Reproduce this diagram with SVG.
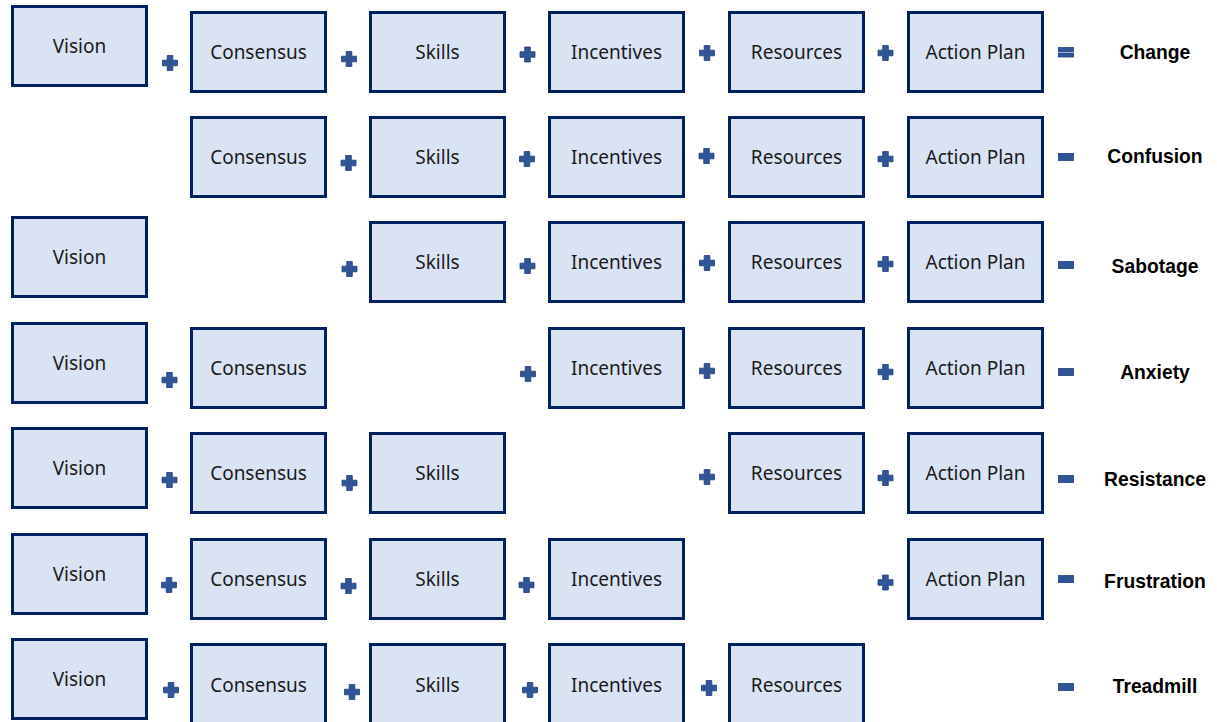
<svg xmlns="http://www.w3.org/2000/svg" xmlns:xlink="http://www.w3.org/1999/xlink" width="1217" height="722" viewBox="0 0 1217 722">
<style>
.box{fill:#dae3f3;stroke:#002060;stroke-width:3}
.t{font-family:"Noto Sans","Liberation Sans",sans-serif;font-size:19px;fill:#1a1a1a;text-anchor:middle}
.r{font-family:"Liberation Sans",Arial,sans-serif;font-size:19.3px;font-weight:bold;fill:#000;text-anchor:middle}
.op{fill:#2f5597;stroke:#203f7a;stroke-width:0.8}
</style>
<defs>
<path id="plus" d="M-2.8,-7.5h5.6v4.7h4.7v5.6h-4.7v4.7h-5.6v-4.7h-4.7v-5.6h4.7z"/>
<rect id="minus" x="-7.5" y="-3.5" width="15" height="7"/>
<g id="eq"><rect x="-7.5" y="-4.5" width="15" height="4"/><rect x="-7.5" y="1" width="15" height="4"/></g>
</defs>
<rect width="1217" height="722" fill="#fff"/>

<!-- Row 1 -->
<g id="r1-vision"><rect class="box" x="12.5" y="6.5" width="134" height="79"/><text class="t" x="79.5" y="53">Vision</text></g>
<g id="r1-consensus"><rect class="box" x="191.5" y="12.5" width="134" height="79"/><text class="t" x="258.5" y="59">Consensus</text></g>
<g id="r1-skills"><rect class="box" x="370.5" y="12.5" width="134" height="79"/><text class="t" x="437.5" y="59">Skills</text></g>
<g id="r1-incentives"><rect class="box" x="549.5" y="12.5" width="134" height="79"/><text class="t" x="616.5" y="59">Incentives</text></g>
<g id="r1-resources"><rect class="box" x="729.5" y="12.5" width="134" height="79"/><text class="t" x="796.5" y="59">Resources</text></g>
<g id="r1-action"><rect class="box" x="908.5" y="12.5" width="134" height="79"/><text class="t" x="975.5" y="59">Action Plan</text></g>
<g id="r1-result"><text class="r" x="1155" y="59">Change</text></g>

<!-- Row 2 -->
<g id="r2-consensus"><rect class="box" x="191.5" y="117.5" width="134" height="79"/><text class="t" x="258.5" y="164">Consensus</text></g>
<g id="r2-skills"><rect class="box" x="370.5" y="117.5" width="134" height="79"/><text class="t" x="437.5" y="164">Skills</text></g>
<g id="r2-incentives"><rect class="box" x="549.5" y="117.5" width="134" height="79"/><text class="t" x="616.5" y="164">Incentives</text></g>
<g id="r2-resources"><rect class="box" x="729.5" y="117.5" width="134" height="79"/><text class="t" x="796.5" y="164">Resources</text></g>
<g id="r2-action"><rect class="box" x="908.5" y="117.5" width="134" height="79"/><text class="t" x="975.5" y="164">Action Plan</text></g>
<g id="r2-result"><text class="r" x="1155" y="163">Confusion</text></g>

<!-- Row 3 -->
<g id="r3-vision"><rect class="box" x="12.5" y="217.5" width="134" height="79"/><text class="t" x="79.5" y="264">Vision</text></g>
<g id="r3-skills"><rect class="box" x="370.5" y="222.5" width="134" height="79"/><text class="t" x="437.5" y="269">Skills</text></g>
<g id="r3-incentives"><rect class="box" x="549.5" y="222.5" width="134" height="79"/><text class="t" x="616.5" y="269">Incentives</text></g>
<g id="r3-resources"><rect class="box" x="729.5" y="222.5" width="134" height="79"/><text class="t" x="796.5" y="269">Resources</text></g>
<g id="r3-action"><rect class="box" x="908.5" y="222.5" width="134" height="79"/><text class="t" x="975.5" y="269">Action Plan</text></g>
<g id="r3-result"><text class="r" x="1155" y="273">Sabotage</text></g>

<!-- Row 4 -->
<g id="r4-vision"><rect class="box" x="12.5" y="323.5" width="134" height="79"/><text class="t" x="79.5" y="370">Vision</text></g>
<g id="r4-consensus"><rect class="box" x="191.5" y="328.5" width="134" height="79"/><text class="t" x="258.5" y="375">Consensus</text></g>
<g id="r4-incentives"><rect class="box" x="549.5" y="328.5" width="134" height="79"/><text class="t" x="616.5" y="375">Incentives</text></g>
<g id="r4-resources"><rect class="box" x="729.5" y="328.5" width="134" height="79"/><text class="t" x="796.5" y="375">Resources</text></g>
<g id="r4-action"><rect class="box" x="908.5" y="328.5" width="134" height="79"/><text class="t" x="975.5" y="375">Action Plan</text></g>
<g id="r4-result"><text class="r" x="1155" y="379">Anxiety</text></g>

<!-- Row 5 -->
<g id="r5-vision"><rect class="box" x="12.5" y="428.5" width="134" height="79"/><text class="t" x="79.5" y="475">Vision</text></g>
<g id="r5-consensus"><rect class="box" x="191.5" y="433.5" width="134" height="79"/><text class="t" x="258.5" y="480">Consensus</text></g>
<g id="r5-skills"><rect class="box" x="370.5" y="433.5" width="134" height="79"/><text class="t" x="437.5" y="480">Skills</text></g>
<g id="r5-resources"><rect class="box" x="729.5" y="433.5" width="134" height="79"/><text class="t" x="796.5" y="480">Resources</text></g>
<g id="r5-action"><rect class="box" x="908.5" y="433.5" width="134" height="79"/><text class="t" x="975.5" y="480">Action Plan</text></g>
<g id="r5-result"><text class="r" x="1155" y="486">Resistance</text></g>

<!-- Row 6 -->
<g id="r6-vision"><rect class="box" x="12.5" y="534.5" width="134" height="79"/><text class="t" x="79.5" y="581">Vision</text></g>
<g id="r6-consensus"><rect class="box" x="191.5" y="539.5" width="134" height="79"/><text class="t" x="258.5" y="586">Consensus</text></g>
<g id="r6-skills"><rect class="box" x="370.5" y="539.5" width="134" height="79"/><text class="t" x="437.5" y="586">Skills</text></g>
<g id="r6-incentives"><rect class="box" x="549.5" y="539.5" width="134" height="79"/><text class="t" x="616.5" y="586">Incentives</text></g>
<g id="r6-action"><rect class="box" x="908.5" y="539.5" width="134" height="79"/><text class="t" x="975.5" y="586">Action Plan</text></g>
<g id="r6-result"><text class="r" x="1155" y="588">Frustration</text></g>

<!-- Row 7 -->
<g id="r7-vision"><rect class="box" x="12.5" y="639.5" width="134" height="79"/><text class="t" x="79.5" y="686">Vision</text></g>
<g id="r7-consensus"><rect class="box" x="191.5" y="644.5" width="134" height="79"/><text class="t" x="258.5" y="692">Consensus</text></g>
<g id="r7-skills"><rect class="box" x="370.5" y="644.5" width="134" height="79"/><text class="t" x="437.5" y="692">Skills</text></g>
<g id="r7-incentives"><rect class="box" x="549.5" y="644.5" width="134" height="79"/><text class="t" x="616.5" y="692">Incentives</text></g>
<g id="r7-resources"><rect class="box" x="729.5" y="644.5" width="134" height="79"/><text class="t" x="796.5" y="692">Resources</text></g>
<g id="r7-result"><text class="r" x="1155" y="693">Treadmill</text></g>

<!-- Operators -->
<g id="connectors" class="op">
<use xlink:href="#plus" x="170" y="63"/>
<use xlink:href="#plus" x="349" y="59"/>
<use xlink:href="#plus" x="527.5" y="54.5"/>
<use xlink:href="#plus" x="707" y="53"/>
<use xlink:href="#plus" x="885.5" y="53"/>
<use xlink:href="#eq" x="1066" y="52"/>

<use xlink:href="#plus" x="348.5" y="163"/>
<use xlink:href="#plus" x="527" y="159"/>
<use xlink:href="#plus" x="706.5" y="156"/>
<use xlink:href="#plus" x="885.5" y="159"/>
<use xlink:href="#minus" x="1066" y="157"/>

<use xlink:href="#plus" x="349.5" y="269"/>
<use xlink:href="#plus" x="527.5" y="266"/>
<use xlink:href="#plus" x="707" y="263"/>
<use xlink:href="#plus" x="885.5" y="264"/>
<use xlink:href="#minus" x="1066" y="265"/>

<use xlink:href="#plus" x="169.5" y="380"/>
<use xlink:href="#plus" x="528" y="374"/>
<use xlink:href="#plus" x="707" y="371"/>
<use xlink:href="#plus" x="885.5" y="372"/>
<use xlink:href="#minus" x="1066" y="372"/>

<use xlink:href="#plus" x="169.5" y="480"/>
<use xlink:href="#plus" x="349.5" y="483"/>
<use xlink:href="#plus" x="707" y="477"/>
<use xlink:href="#plus" x="885.5" y="478"/>
<use xlink:href="#minus" x="1066" y="479"/>

<use xlink:href="#plus" x="169" y="585"/>
<use xlink:href="#plus" x="348.5" y="586"/>
<use xlink:href="#plus" x="526.5" y="585"/>
<use xlink:href="#plus" x="885.5" y="582.5"/>
<use xlink:href="#minus" x="1066" y="579"/>

<use xlink:href="#plus" x="171" y="690"/>
<use xlink:href="#plus" x="352" y="692"/>
<use xlink:href="#plus" x="530" y="690"/>
<use xlink:href="#plus" x="709" y="688"/>
<use xlink:href="#minus" x="1066" y="687"/>
</g>
</svg>
